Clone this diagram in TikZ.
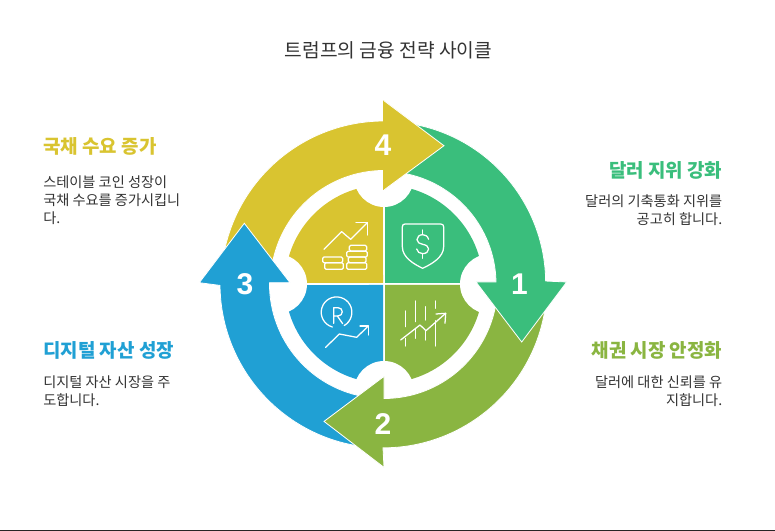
\documentclass[tikz,border=0pt]{standalone}
\usepackage{fontspec}
\setmainfont{Noto Sans CJK KR}
\newfontfamily\numfont{Liberation Sans}
\definecolor{cgreen}{HTML}{3ABE7C}
\definecolor{colive}{HTML}{8AB541}
\definecolor{cblue}{HTML}{20A0D4}
\definecolor{cyellow}{HTML}{D9C430}
\definecolor{cdark}{HTML}{333333}
\tikzset{
  arrowband/.style={draw=white,line width=.6pt,line join=miter},
  hole/.style={fill=white},
  edgewhite/.style={draw=white,line width=.6pt},
  numlabel/.style={text=white,font=\numfont\bfseries\fontsize{22.5}{22.5}\selectfont,inner sep=0pt},
  headlabel/.style={font=\bfseries\fontsize{14.2}{17}\selectfont,inner sep=0pt},
  bodylabel/.style={text=cdark,font=\fontsize{10.65}{13.5}\selectfont,inner sep=0pt},
  titlelabel/.style={text=cdark,font=\fontsize{14.4}{17}\selectfont,inner sep=0pt},
  icon/.style={draw=white,line width=.95pt,line cap=round,line join=round},
}
\begin{document}
\begin{tikzpicture}[x=.75pt,y=.75pt]
\useasboundingbox (0,0) rectangle (775,531);
\fill[white] (0,0) rectangle (775,531);
\fill[black!85] (0,0) rectangle (775,1);

\begin{scope}[shift={(384,247)}]
  % quadrants
  \fill[cgreen]  (1,1) -- (1,99) arc[start angle=89.4,end angle=.6,radius=99] -- cycle;
  \fill[colive]  (1,-1) -- (99,-1) arc[start angle=-.6,end angle=-89.4,radius=99] -- cycle;
  \fill[cblue]   (-1,-1) -- (-1,-99) arc[start angle=269.4,end angle=180.6,radius=99] -- cycle;
  \fill[cyellow] (-1,1) -- (-99,1) arc[start angle=179.4,end angle=90.6,radius=99] -- cycle;
  % notches
  \fill[hole] (0,107) circle[radius=30];
  \fill[hole] (106,0) circle[radius=30];
  \fill[hole] (0,-107) circle[radius=30];
  \fill[hole] (-107,0) circle[radius=30];
  % arrows
  \path[arrowband,fill=cyellow] (170:163) arc[start angle=170,end angle=90,radius=163]
     -- (0,183.3) -- (60,138.3) -- (0,94) -- (0,113.5) arc[start angle=90,end angle=170,radius=113.5] -- cycle;
  \path[arrowband,fill=cblue] (262:164) arc[start angle=262,end angle=180.5,radius=164]
     -- (-184.7,1.3) -- (-139.7,60.7) -- (-94,1.3) -- (-114.5,1.3) arc[start angle=179.4,end angle=262,radius=114.5] -- cycle;
  \path[arrowband,fill=colive] (-8:163) arc[start angle=-8,end angle=-90,radius=164]
     -- (0,-183.4) -- (-60,-137.4) -- (0,-92.4) -- (0,-114.5) arc[start angle=-90,end angle=-8,radius=113.5] -- cycle;
  \path[arrowband,fill=cgreen] (80:162.5) arc[start angle=80,end angle=.7,radius=161.5]
     -- (182.7,2) -- (137.7,-58) -- (92,2) -- (112,2) arc[start angle=1,end angle=80,radius=112.5] -- cycle;
  % head of 4 lies over the tail of 1
  \fill[cyellow] (-1,183.3) -- (0,183.3) -- (60,138.3) -- (0,94) -- (-1,94) -- cycle;
  \draw[edgewhite] (0,183.3) -- (60,138.3) -- (0,94);
\end{scope}

% icons, in coordinates of a 3x crop
\begin{scope}[shift={(280,351)},x=.25pt,y=-.25pt]
  % shield
  \draw[icon] (375,132) -- (482,132) .. controls (488,132) and (491,135) .. (491,141) -- (491,200)
     .. controls (491,232) and (455,252) .. (428,265) .. controls (401,252) and (367,232) .. (367,200) -- (367,141)
     .. controls (367,135) and (370,132) .. (375,132) -- cycle;
  \draw[icon] (428,150) -- (428,164) (428,221) -- (428,235);
  \draw[icon] (446,178) .. controls (443,168) and (435,164) .. (428,164) .. controls (418,164) and (411,171) .. (411,179)
     .. controls (411,188) and (419,191) .. (428,193) .. controls (438,195) and (446,199) .. (446,207)
     .. controls (446,215) and (438,221) .. (428,221) .. controls (419,221) and (412,216) .. (410,207);
  % growth and coins
  \draw[icon] (132,208) -- (185,155) -- (212,178) -- (262,128);
  \draw[icon] (228,128) -- (262,128) -- (262,165);
  \draw[icon,rounded corners=1pt] (208,196) rectangle (260,213);
  \draw[icon,rounded corners=1pt] (200,214) rectangle (262,231);
  \draw[icon,rounded corners=1pt] (205,231) rectangle (258,248);
  \draw[icon,rounded corners=1pt] (200,248) rectangle (260,268);
  \draw[icon,rounded corners=1pt] (128,231) rectangle (188,248);
  \draw[icon,rounded corners=1pt] (134,248) rectangle (190,268);
  % R in a ring and rising line
  \draw[icon] (157,441) arc[start angle=106,end angle=420,radius=46];
  \draw[icon] (161,430) -- (161,383) -- (174,383) .. controls (191,383) and (191,408) .. (174,408) -- (161,408);
  \draw[icon] (172,408) -- (188,431);
  \draw[icon] (137,502) -- (178,462) -- (230,472) -- (265,438);
  \draw[icon] (240,438) -- (265,438) -- (265,465);
  % bars and rising line
  \draw[icon] (376,393) -- (376,440) (376,475) -- (376,498);
  \draw[icon] (406,363) -- (406,425) (406,448) -- (406,475);
  \draw[icon] (436,380) -- (436,420) (436,452) -- (436,480);
  \draw[icon] (466,363) -- (466,385) (466,422) -- (466,498);
  \draw[icon] (362,480) -- (420,435) -- (438,452) -- (497,400);
  \draw[icon] (468,402) -- (497,400) -- (495,430);
\end{scope}

% numbers
\node[numlabel] (n1) at (519.5,246.5) {1};
\node[numlabel] (n2) at (383,107) {2};
\node[numlabel] (n3) at (245,247) {3};
\node[numlabel] (n4) at (383,386) {4};

% title
\node[titlelabel] (title) at (388.5,481) {트럼프의 금융 전략 사이클};

% headings
\node[headlabel,text=cyellow,anchor=west] (h4) at (43,385) {국채 수요 증가};
\node[headlabel,text=cgreen,anchor=east] (h1) at (722.5,361) {달러 지위 강화};
\node[headlabel,text=cblue,anchor=west] (h3) at (43,181) {디지털 자산 성장};
\node[headlabel,text=colive,anchor=east] (h2) at (722.5,181) {채권 시장 안정화};

% bodies
\node[bodylabel,anchor=north west,align=left] (b4) at (43,356) {스테이블 코인 성장이\\국채 수요를 증가시킵니\\다.};
\node[bodylabel,anchor=north east,align=right] (b1) at (722.5,337) {달러의 기축통화 지위를\\공고히 합니다.};
\node[bodylabel,anchor=north west,align=left] (b3) at (43,156) {디지털 자산 시장을 주\\도합니다.};
\node[bodylabel,anchor=north east,align=right] (b2) at (722.5,156) {달러에 대한 신뢰를 유\\지합니다.};
\end{tikzpicture}
\end{document}
